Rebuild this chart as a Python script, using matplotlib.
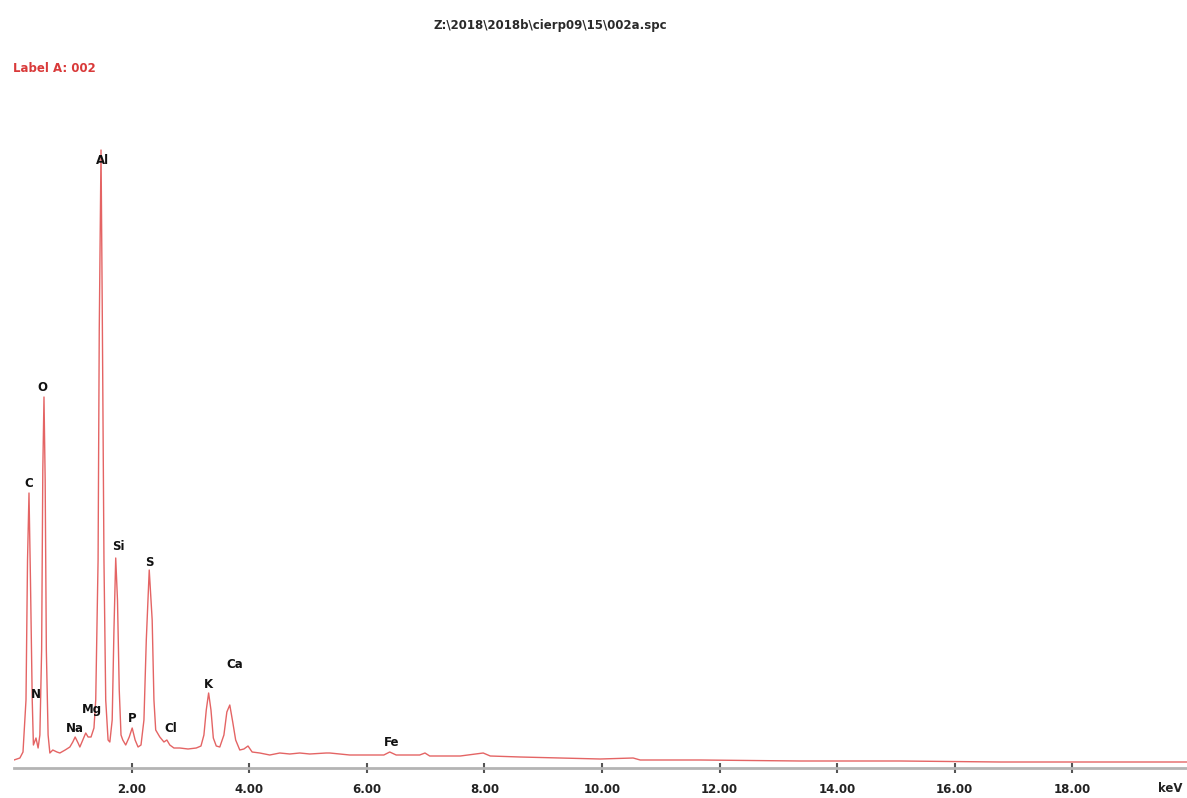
import matplotlib
matplotlib.use("Agg")
import matplotlib.pyplot as plt

# ---- data ----
energy_kev = [0.00, 0.10, 0.153, 0.204, 0.23, 0.255, 0.28, 0.31, 0.33, 0.374, 0.41, 0.44, 0.47, 0.49,
              0.51, 0.53, 0.55, 0.58, 0.61, 0.66, 0.73, 0.78, 0.87, 0.95, 1.00, 1.04, 1.09, 1.12,
              1.17, 1.22, 1.26, 1.31, 1.36, 1.39, 1.43, 1.45, 1.48, 1.50, 1.53, 1.56, 1.60, 1.63,
              1.67, 1.70, 1.73, 1.76, 1.79, 1.82, 1.85, 1.90, 1.96, 2.01, 2.06, 2.11, 2.16, 2.21,
              2.25, 2.30, 2.35, 2.38, 2.41, 2.48, 2.55, 2.60, 2.65, 2.72, 2.82, 2.96, 3.10, 3.18,
              3.23, 3.27, 3.31, 3.35, 3.39, 3.44, 3.50, 3.57, 3.62, 3.67, 3.72, 3.77, 3.84, 3.91,
              3.98, 4.05, 4.18, 4.35, 4.52, 4.69, 4.86, 5.03, 5.31, 5.37, 5.71, 6.05, 6.29, 6.39,
              6.50, 6.90, 6.99, 7.07, 7.59, 7.98, 8.10, 8.61, 9.29, 9.97, 10.53, 10.65, 11.67,
              13.37, 15.07, 16.77, 18.47, 19.95]
counts = [8, 10, 16, 68, 208, 275, 188, 68, 23, 30, 20, 33, 118, 298,
          371, 288, 118, 33, 15, 18, 16, 15, 18, 21, 26, 31, 25, 21,
          28, 35, 31, 31, 40, 68, 208, 438, 618, 468, 208, 68, 28, 26,
          48, 138, 210, 168, 78, 33, 28, 23, 31, 40, 28, 21, 23, 48,
          128, 198, 148, 68, 38, 31, 26, 28, 23, 20, 20, 19, 20, 22,
          33, 58, 75, 58, 30, 22, 21, 33, 56, 63, 46, 28, 18, 19,
          22, 16, 15, 13, 15, 14, 15, 14, 15, 15, 13, 13, 13, 16,
          13, 13, 15, 12, 12, 15, 12, 11, 10, 9, 10, 8, 8,
          7, 7, 6, 6, 6]

element_labels = ["C", "N", "O", "Na", "Mg", "Al", "Si", "P", "S", "Cl", "K", "Ca", "Fe"]
label_kev = [0.255, 0.374, 0.49, 1.04, 1.32, 1.50, 1.77, 2.01, 2.30, 2.66, 3.30, 3.76, 6.43]
label_counts = [285, 73, 381, 40, 58, 608, 221, 50, 206, 39, 83, 103, 25]

tick_values = [2, 4, 6, 8, 10, 12, 14, 16, 18]
tick_labels = ["2.00", "4.00", "6.00", "8.00", "10.00", "12.00", "14.00", "16.00", "18.00"]

title_text = "Z:\\2018\\2018b\\cierp09\\15\\002a.spc"
label_text = "Label A: 002"

# ---- figure ----
W, H = 1187, 798
fig = plt.figure(figsize=(W / 100, H / 100), dpi=100)
ax = fig.add_axes([14 / W, 30 / H, 1 - 14 / W, 700 / H])
ax.set_xlim(0, 19.95)
ax.set_ylim(0, 700)

ax.plot(energy_kev, counts, color="#e46464", lw=1.0, solid_joinstyle="round")

for name, ex, cy in zip(element_labels, label_kev, label_counts):
    ax.text(ex, cy, name, ha="center", va="center", fontsize=8.5,
            fontweight="bold", color="#111111", family="DejaVu Sans")

for s in ["top", "right", "left"]:
    ax.spines[s].set_visible(False)
ax.spines["bottom"].set_color("#b4b4b4")
ax.spines["bottom"].set_linewidth(2)
ax.set_yticks([])
ax.set_xticks(tick_values)
ax.set_xticklabels(tick_labels, fontsize=8.5, fontweight="bold", color="#222222")
ax.tick_params(axis="x", direction="inout", length=7, width=1.5, color="#555555", pad=7)

fig.text(1170 / W, 1 - 788 / H, "keV", ha="center", va="center", fontsize=8.5,
         fontweight="bold", color="#222222")
fig.text(550 / W, 1 - 25 / H, title_text, ha="center", va="center", fontsize=8.5,
         fontweight="bold", color="#2a2a2a")
fig.text(13 / W, 1 - 68 / H, label_text, ha="left", va="center", fontsize=8.5,
         fontweight="bold", color="#d93a3a")

fig.savefig("out.png", dpi=100, facecolor="white")
